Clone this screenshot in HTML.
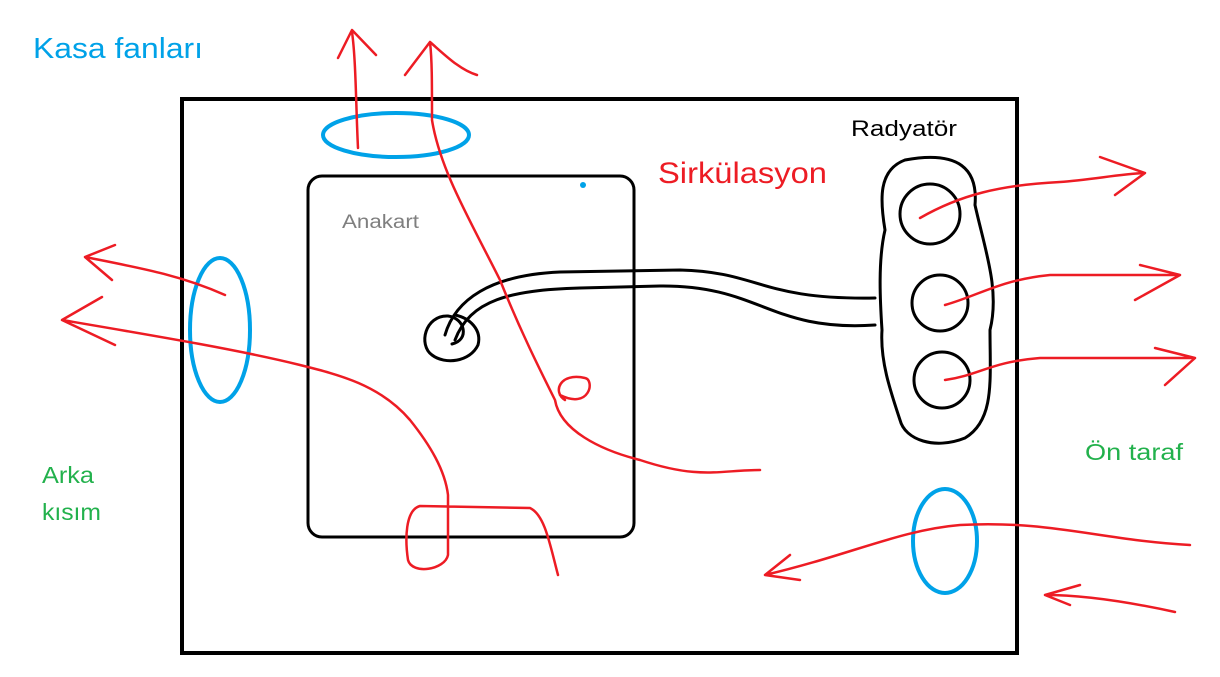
<!DOCTYPE html>
<html><head><meta charset="utf-8"><style>
html,body{margin:0;padding:0;background:#fff;}
svg{display:block}
text{font-family:"Liberation Sans","DejaVu Sans",sans-serif}
</style></head><body>
<svg width="1220" height="677" viewBox="0 0 1220 677" xmlns="http://www.w3.org/2000/svg">
<rect width="1220" height="677" fill="#fff"/>
<rect x="182" y="99" width="835" height="554" fill="none" stroke="#000" stroke-width="4"/>
<rect x="308" y="176" width="326" height="361" rx="14" fill="none" stroke="#000" stroke-width="3"/>

<text x="33" y="58" font-size="29" fill="#00a2e8" textLength="170" lengthAdjust="spacingAndGlyphs">Kasa fanları</text>
<text x="658" y="183" font-size="30" fill="#ed1c24" textLength="169" lengthAdjust="spacingAndGlyphs">Sirkülasyon</text>
<text x="851" y="136" font-size="22" fill="#000" textLength="106" lengthAdjust="spacingAndGlyphs">Radyatör</text>
<text x="342" y="228" font-size="19" fill="#7f7f7f" textLength="77" lengthAdjust="spacingAndGlyphs">Anakart</text>
<text x="42" y="483" font-size="23" fill="#22b14c" textLength="52" lengthAdjust="spacingAndGlyphs">Arka</text>
<text x="42" y="520" font-size="23" fill="#22b14c" textLength="59" lengthAdjust="spacingAndGlyphs">kısım</text>
<text x="1085" y="460" font-size="23" fill="#22b14c" textLength="98" lengthAdjust="spacingAndGlyphs">Ön taraf</text>

<g fill="none" stroke="#00a2e8" stroke-width="4">
<ellipse cx="396" cy="135" rx="73" ry="22"/>
<ellipse cx="220" cy="330" rx="30" ry="72"/>
<ellipse cx="945" cy="541" rx="32" ry="52"/>
</g>
<circle cx="583" cy="185" r="3" fill="#00a2e8"/>

<g fill="none" stroke="#000" stroke-width="3" stroke-linecap="round">
<path d="M905,160 C960,150 978,170 975,205 C985,250 1000,290 990,330 C990,380 995,420 965,438 C935,450 905,440 900,420 C890,390 880,360 882,330 C880,300 878,260 885,230 C880,200 878,170 905,160 Z"/>
<circle cx="930" cy="214" r="30"/>
<circle cx="940" cy="303" r="28"/>
<circle cx="942" cy="380" r="28"/>
<path d="M445,335 C455,300 490,275 560,272 L680,270 C760,272 760,300 875,298"/>
<path d="M455,340 C470,300 510,290 580,288 L660,286 C760,285 770,332 875,325"/>
<path d="M452,344 C470,340 465,318 448,316 C425,315 418,345 432,355 C445,365 470,362 478,345 C482,330 470,318 455,315"/>
</g>

<g fill="none" stroke="#ed1c24" stroke-width="2.5" stroke-linecap="round" stroke-linejoin="round">
<path d="M358,148 C356,110 356,60 352,32 M338,58 L352,30 L376,55"/>
<path d="M760,470 C720,470 700,480 640,460 C600,450 560,430 555,400 C540,370 520,330 500,280 C470,220 440,170 432,120 C432,80 432,60 430,42 M405,75 L430,42 C445,55 460,70 477,75"/>
<path d="M560,395 C590,410 595,380 585,378 C560,372 552,392 565,400"/>
<path d="M558,575 C550,545 545,515 530,508 L420,506 C405,510 405,540 408,560 C412,575 445,570 448,555 L448,495 C445,470 430,445 410,420 C380,385 340,375 300,365 C240,350 150,335 62,320 M115,345 L62,320 L102,297"/>
<path d="M225,295 C180,275 140,268 85,257 M115,245 L85,257 L112,280"/>
<path d="M920,218 C960,195 1000,185 1060,182 C1090,180 1120,174 1145,173 M1100,157 L1145,173 L1115,195"/>
<path d="M945,305 C980,295 1000,280 1050,275 L1180,275 M1140,265 L1180,275 L1135,300"/>
<path d="M945,380 C980,375 990,362 1040,358 L1195,358 M1155,348 L1195,358 L1165,385"/>
<path d="M1190,545 C1100,540 1050,520 960,525 C900,530 850,555 765,575 M790,555 L765,575 L800,580"/>
<path d="M1175,612 C1120,600 1080,595 1045,595 M1080,585 L1045,595 L1070,605"/>
</g>
</svg>
</body></html>
